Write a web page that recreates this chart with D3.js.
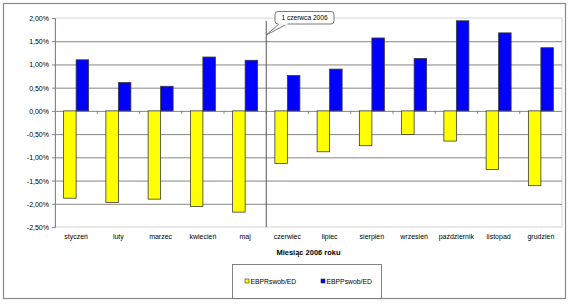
<html lang="pl">
<head>
  <meta charset="UTF-8"/>
  <title>EBPR / EBPP 2006</title>
  <script src="https://d3js.org/d3.v7.min.js"></script>
  <style>
    body { margin: 0; background: #fff; }
    svg { display: block; }
    text { font-family: 'Liberation Sans', Arial, sans-serif; fill: #000; }
    .tick-label { font-size: 7px; }
    .title { font-size: 7.5px; font-weight: bold; }
    .legend-text { font-size: 6.8px; }
    .note { font-size: 6.6px; }
  </style>
</head>
<body>
<svg width="570" height="307"></svg>
<script>
const months = ['styczeń', 'luty', 'marzec', 'kwiecień', 'maj', 'czerwiec',
  'lipiec', 'sierpień', 'wrzesień', 'październik', 'listopad', 'grudzień'];
const seriesNames = ['EBPRswob/ED', 'EBPPswob/ED'];
const seriesColors = ['#ffff00', '#0000ff'];
// values in percent
const ebpr = [-1.88, -1.97, -1.90, -2.06, -2.18, -1.13, -0.88, -0.75, -0.51, -0.65, -1.26, -1.61];
const ebpp = [1.10, 0.61, 0.53, 1.16, 1.09, 0.76, 0.90, 1.57, 1.13, 1.94, 1.68, 1.36];
const yTicks = [2.0, 1.5, 1.0, 0.5, 0, -0.5, -1.0, -1.5, -2.0, -2.5];
const yTickLabels = ['2,00%', '1,50%', '1,00%', '0,50%', '0,00%', '-0,50%', '-1,00%', '-1,50%', '-2,00%', '-2,50%'];
const markerMonth = 'czerwiec';
const markerText = '1 czerwca 2006';
const xTitle = 'Miesiąc 2006 roku';

const svg = d3.select('svg');

const plotLeft = 55, plotRight = 562, plotTop = 18, plotBottom = 227;

// outer frame
svg.append('rect')
  .attr('x', 3.5).attr('y', 3.5)
  .attr('width', 562).attr('height', 295)
  .attr('fill', 'none')
  .attr('stroke', '#8a8a8a')
  .attr('stroke-width', 1.2);

const x0 = d3.scaleBand().domain(months).range([plotLeft, plotRight]).padding(0);
const x1 = d3.scaleBand().domain(seriesNames).range([0, x0.bandwidth()])
  .paddingInner(0).paddingOuter(0.69);
const y = d3.scaleLinear().domain([-2.5, 2.0]).range([plotBottom, plotTop]);

// plot area border
svg.append('rect')
  .attr('x', plotLeft).attr('y', plotTop)
  .attr('width', plotRight - plotLeft).attr('height', plotBottom - plotTop)
  .attr('fill', '#fff')
  .attr('stroke', '#d4d4d4')
  .attr('stroke-width', 1);

// grid lines
svg.append('g')
  .attr('transform', `translate(${plotLeft},0)`)
  .call(d3.axisLeft(y).tickValues(yTicks.slice(1, -1)).tickSize(-(plotRight - plotLeft)).tickFormat(''))
  .call(g => g.select('.domain').remove())
  .call(g => g.selectAll('line').attr('stroke', '#868686').attr('stroke-width', 1));

// y axis
const yAxis = svg.append('g')
  .attr('transform', `translate(${plotLeft},0)`)
  .call(d3.axisLeft(y).tickValues(yTicks).tickSize(3).tickPadding(3)
    .tickFormat((d, i) => yTickLabels[i]));
yAxis.select('.domain').attr('stroke', '#868686');
yAxis.selectAll('line').attr('stroke', '#868686');
yAxis.selectAll('text').attr('class', 'tick-label').attr('dy', '0.35em');

// x axis at zero: ticks at category boundaries
const xAxis = svg.append('g')
  .attr('transform', `translate(0,${y(0)})`);
xAxis.selectAll('line')
  .data(months.slice(1))
  .enter()
  .append('line')
  .attr('x1', d => x0(d)).attr('x2', d => x0(d))
  .attr('y1', 0).attr('y2', 3)
  .attr('stroke', '#868686');

// bars
const rows = months.map((m, i) => ({ month: m, values: [ebpr[i], ebpp[i]] }));
const groups = svg.selectAll('.month')
  .data(rows)
  .enter()
  .append('g')
  .attr('class', 'month')
  .attr('transform', d => `translate(${x0(d.month)},0)`);

groups.selectAll('rect')
  .data(d => d.values.map((v, k) => ({ name: seriesNames[k], value: v, color: seriesColors[k] })))
  .enter()
  .append('rect')
  .attr('x', d => x1(d.name))
  .attr('y', d => y(Math.max(0, d.value)))
  .attr('width', x1.bandwidth())
  .attr('height', d => Math.abs(y(d.value) - y(0)))
  .attr('fill', d => d.color)
  .attr('stroke', '#3a3a3a')
  .attr('stroke-width', 0.8);

// category labels
svg.append('g')
  .selectAll('text')
  .data(months)
  .enter()
  .append('text')
  .attr('class', 'tick-label')
  .attr('x', d => x0(d) + x0.bandwidth() / 2)
  .attr('y', 239)
  .attr('text-anchor', 'middle')
  .text(d => d);

// x title
svg.append('text')
  .attr('class', 'title')
  .attr('x', (plotLeft + plotRight) / 2)
  .attr('y', 255)
  .attr('text-anchor', 'middle')
  .text(xTitle);

// marker line for 1 June
const mx = x0(markerMonth);
svg.append('line')
  .attr('x1', mx).attr('x2', mx)
  .attr('y1', 21).attr('y2', plotBottom)
  .attr('stroke', '#555')
  .attr('stroke-width', 1);

// callout
const cx = 275, cy = 11.5, cw = 59, ch = 12.5;
svg.append('path')
  .attr('d', `M${cx + 4},${cy + ch} L${mx},35 L${cx + 12},${cy + ch}`)
  .attr('fill', '#fff')
  .attr('stroke', '#555')
  .attr('stroke-width', 0.8);
svg.append('rect')
  .attr('x', cx).attr('y', cy)
  .attr('width', cw).attr('height', ch)
  .attr('rx', 3)
  .attr('fill', '#fff')
  .attr('stroke', '#555')
  .attr('stroke-width', 0.8);
svg.append('rect')
  .attr('x', cx + 3.5).attr('y', cy + ch - 1.2)
  .attr('width', 9).attr('height', 2)
  .attr('fill', '#fff');
svg.append('text')
  .attr('class', 'note')
  .attr('x', cx + cw / 2)
  .attr('y', cy + 8.5)
  .attr('text-anchor', 'middle')
  .text(markerText);

// legend
const legend = svg.append('g');
legend.append('rect')
  .attr('x', 232.5).attr('y', 264.5)
  .attr('width', 149).attr('height', 34)
  .attr('fill', '#fff')
  .attr('stroke', '#666')
  .attr('stroke-width', 0.8);
const legendX = [245, 321];
seriesNames.forEach((name, i) => {
  legend.append('rect')
    .attr('x', legendX[i]).attr('y', 279)
    .attr('width', 4).attr('height', 4)
    .attr('fill', seriesColors[i])
    .attr('stroke', '#333')
    .attr('stroke-width', 0.6);
  legend.append('text')
    .attr('class', 'legend-text')
    .attr('x', legendX[i] + 5.5)
    .attr('y', 283.5)
    .text(name);
});
</script>
</body>
</html>
